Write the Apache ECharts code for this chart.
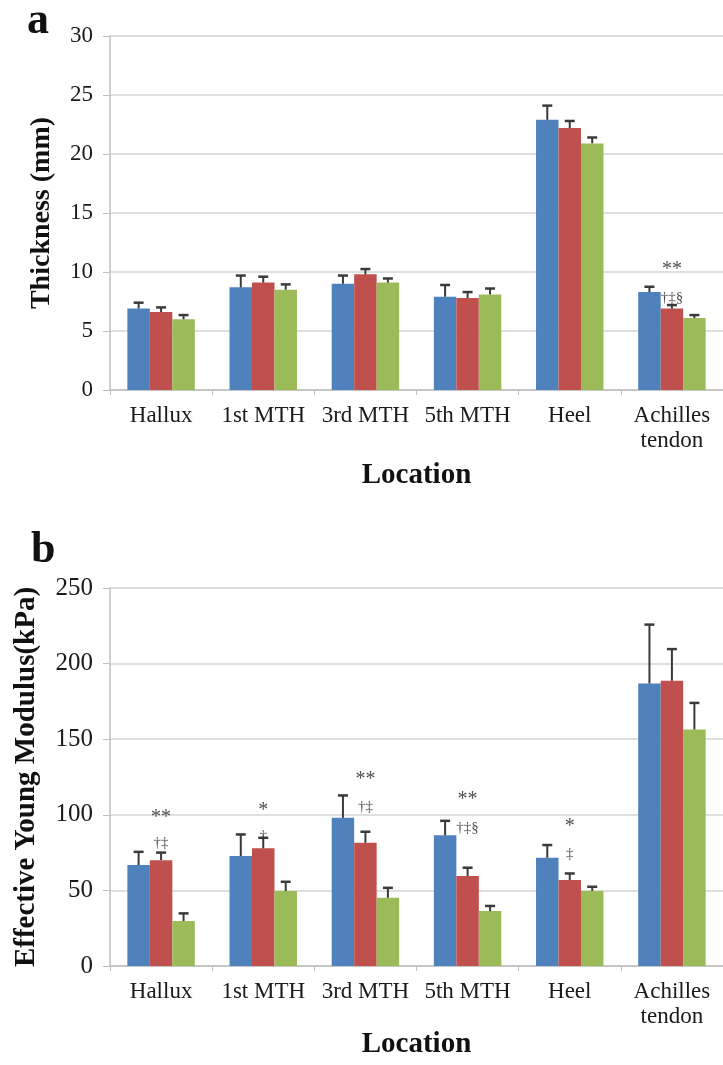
<!DOCTYPE html>
<html lang="en">
<head>
    <meta charset="UTF-8">
    <title>Thickness and Young modulus</title>
    <style>
        html, body { margin: 0; padding: 0; background: #fff; }
    </style>
</head>
<body>
<div class="main" style="width: 723px;height: 1065px;"></div>
</body>
<script src="https://cdn.jsdelivr.net/npm/echarts@6/dist/echarts.min.js"></script>
<script>
    var categories = ["Hallux", "1st MTH", "3rd MTH", "5th MTH", "Heel", "Achilles\ntendon"];
    var groupNames = ["Group 1", "Group 2", "Group 3"];
    var colors = ["#4F81BD", "#C0504D", "#9BBB59"];

    // panel a : thickness (mm), mean and SD per group
    var thickMean = [
        [6.9, 8.7, 9.0, 7.9, 22.9, 8.3],
        [6.6, 9.1, 9.8, 7.8, 22.2, 6.9],
        [6.0, 8.5, 9.1, 8.1, 20.9, 6.1]
    ];
    var thickSD = [
        [0.5, 1.0, 0.7, 1.0, 1.2, 0.45],
        [0.4, 0.5, 0.45, 0.5, 0.6, 0.3],
        [0.35, 0.45, 0.35, 0.5, 0.5, 0.25]
    ];
    var thickTicks = [0, 5, 10, 15, 20, 25, 30];

    // panel b : effective Young modulus (kPa)
    var modMean = [
        [66.8, 72.7, 98.0, 86.4, 71.6, 186.8],
        [70.0, 77.8, 81.5, 59.5, 56.8, 188.6],
        [29.7, 49.6, 45.1, 36.3, 49.6, 156.4]
    ];
    var modSD = [
        [8.7, 14.3, 14.8, 9.6, 8.4, 39.0],
        [5.0, 7.0, 7.3, 5.5, 4.4, 21.0],
        [5.1, 6.1, 6.6, 3.4, 2.8, 17.6]
    ];
    var modTicks = [0, 50, 100, 150, 200, 250];

    // significance marks (category index, value, text)
    var annACat = [5, 5];
    var annAVal = [10.2, 7.8];
    var annAText = ["**", "†‡§"];

    var annBCat = [0, 0, 1, 1, 2, 2, 3, 3, 4, 4];
    var annBVal = [98, 81, 103, 86, 123, 105, 110, 91, 92, 74];
    var annBText = ["**", "†‡", "*", "†", "**", "†‡", "**", "†‡§", "*", "‡"];

    var FONT = "'Liberation Serif', 'Times New Roman', serif";
    var CAT_GAP = 0.34;

    var main = document.querySelector(".main");
    var chart = echarts.init(main);

    function errRender(k) {
        return function (params, api) {
            var i = api.value(0);
            var m = api.value(1);
            var s = api.value(2);
            var band = api.size([1, 0])[0];
            var bw = band * (1 - CAT_GAP) / 3;
            var p0 = api.coord([i, m]);
            var p1 = api.coord([i, m + s]);
            var cx = p0[0] + (k - 1) * bw;
            return {
                type: "group",
                children: [
                    {type: "line", shape: {x1: cx, y1: p0[1], x2: cx, y2: p1[1]},
                        style: {stroke: "#3a3a3a", lineWidth: 2}},
                    {type: "line", shape: {x1: cx - 5, y1: p1[1], x2: cx + 5, y2: p1[1]},
                        style: {stroke: "#3a3a3a", lineWidth: 2.5}}
                ]
            };
        };
    }

    function xAxisFor(idx) {
        return {
            type: "category", gridIndex: idx, data: categories,
            name: "Location", nameLocation: "middle", nameGap: idx === 0 ? 71 : 64,
            nameTextStyle: {fontFamily: FONT, fontWeight: "bold", fontSize: 29, color: "#111"},
            axisLine: {lineStyle: {color: "#bfbfbf", width: 1.5}},
            axisTick: {show: true, length: 5, lineStyle: {color: "#bfbfbf"}},
            axisLabel: {fontFamily: FONT, fontSize: 23, color: "#1a1a1a", margin: 13, lineHeight: 25, interval: 0}
        };
    }

    function yAxisFor(idx, ticks, name, fs, nfs, gap) {
        return {
            type: "value", gridIndex: idx, min: ticks[0], max: ticks[ticks.length - 1],
            interval: ticks[1] - ticks[0],
            name: name, nameLocation: "middle", nameRotate: 90, nameGap: gap,
            nameTextStyle: {fontFamily: FONT, fontWeight: "bold", fontSize: nfs, color: "#111"},
            axisLine: {show: true, lineStyle: {color: "#bfbfbf", width: 1.5}},
            axisTick: {show: true, length: 7, lineStyle: {color: "#bfbfbf"}},
            splitLine: {lineStyle: {color: "#d4d4d4", width: 1.5}},
            axisLabel: {fontFamily: FONT, fontSize: fs, color: "#1a1a1a", margin: 17}
        };
    }

    var series = [];
    [[thickMean, thickSD, 0], [modMean, modSD, 1]].forEach(function (set) {
        var means = set[0], sds = set[1], g = set[2];
        for (var k = 0; k < 3; k++) {
            series.push({
                type: "bar", name: groupNames[k], xAxisIndex: g, yAxisIndex: g,
                data: means[k], barGap: "0%", barCategoryGap: (CAT_GAP * 100) + "%",
                itemStyle: {color: colors[k]}, silent: true
            });
        }
        for (var k2 = 0; k2 < 3; k2++) {
            series.push({
                type: "custom", xAxisIndex: g, yAxisIndex: g, silent: true, z: 5,
                renderItem: errRender(k2),
                encode: {x: 0, y: 1},
                data: means[k2].map(function (v, i) { return [i, v, sds[k2][i]]; })
            });
        }
    });

    function annSeries(g, cats, vals, texts) {
        return {
            type: "scatter", xAxisIndex: g, yAxisIndex: g, symbolSize: 0, silent: true, z: 6,
            data: cats.map(function (c, i) {
                var star = texts[i].charAt(0) === "*";
                return {
                    value: [c, vals[i]],
                    label: {fontSize: star ? 20 : 15}
                };
            }),
            label: {
                show: true, position: "inside", fontFamily: FONT, color: "#222",
                formatter: function (p) { return texts[p.dataIndex]; }
            },
            labelLayout: {hideOverlap: false}
        };
    }
    series.push(annSeries(0, annACat, annAVal, annAText));
    series.push(annSeries(1, annBCat, annBVal, annBText));

    var option = {
        animation: false,
        backgroundColor: "#fff",
        grid: [
            {left: 110, top: 36, width: 621, height: 354},
            {left: 110, top: 588, width: 621, height: 378}
        ],
        xAxis: [xAxisFor(0), xAxisFor(1)],
        yAxis: [
            yAxisFor(0, thickTicks, "Thickness (mm)", 23, 28, 54),
            yAxisFor(1, modTicks, "Effective Young Modulus(kPa)", 25, 29, 69)
        ],
        graphic: [
            {type: "text", left: 27, top: 0, style: {text: "a", font: "bold 44px " + FONT, fill: "#111"}},
            {type: "text", left: 31, top: 529, style: {text: "b", font: "bold 44px " + FONT, fill: "#111"}}
        ],
        series: series
    };

    chart.setOption(option);
</script>
</html>
